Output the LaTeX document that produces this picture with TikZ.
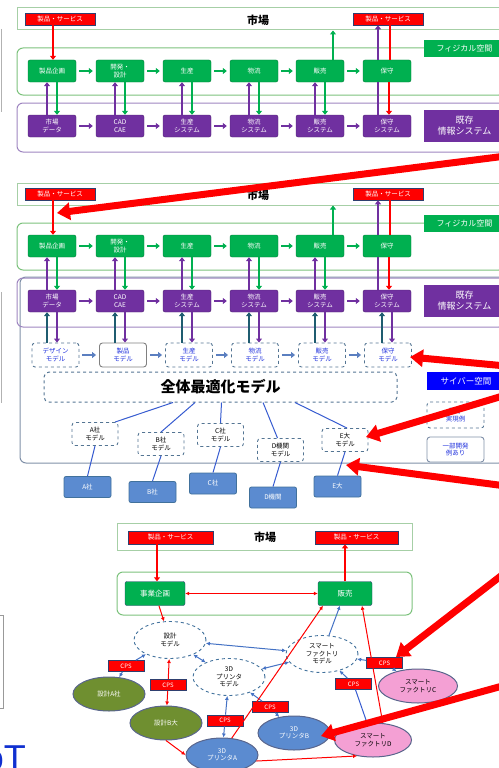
\documentclass[tikz,border=0pt]{standalone}
\usepackage{fontspec}
\setmainfont{Noto Sans CJK JP}
\newfontfamily\lsans{Liberation Sans}
\usetikzlibrary{arrows.meta,calc,shapes.geometric}
\definecolor{cgreen}{HTML}{00B050}
\definecolor{cpurple}{HTML}{7030A0}
\definecolor{cred}{HTML}{FF0000}
\definecolor{cnavy}{HTML}{2F3F6F}
\definecolor{cmk}{HTML}{A6CFA6}
\definecolor{cframeg}{HTML}{7CC27C}
\definecolor{cframep}{HTML}{9E85C0}
\definecolor{cframeb}{HTML}{8090A8}
\definecolor{cblue}{HTML}{5B8BD0}
\definecolor{cblueb}{HTML}{41719C}
\definecolor{colive}{HTML}{6F8F30}
\definecolor{cpink}{HTML}{F4A0D4}
\definecolor{cteal}{HTML}{1F5C70}
\definecolor{clink}{HTML}{4472C4}
\definecolor{ctext}{HTML}{2233DD}
\definecolor{cmodarr}{HTML}{5B7FC0}
\definecolor{ccyber}{HTML}{0000FF}
\definecolor{ciot}{HTML}{1030D0}
\tikzset{
 sm/.style={font=\fontsize{6.5}{7.5}\selectfont},
 redlab/.style={sm, fill=cred, draw=cnavy, line width=0.6pt, text=white, minimum width=70pt, minimum height=12pt, inner sep=0pt},
 cps/.style={redlab, minimum width=36pt, minimum height=11pt, font=\fontsize{6}{6}\selectfont},
 gbox/.style={sm, fill=cgreen, draw=cgreen!70!black, rounded corners=2pt, text=white, minimum width=48pt, minimum height=22pt, inner sep=0pt, align=center},
 pbox/.style={gbox, fill=cpurple, draw=cpurple!70!black},
 mktbox/.style={draw=cmk, line width=1pt, inner sep=0pt},
 gframe/.style={draw=cframeg, line width=1pt, rounded corners=6pt, inner sep=0pt},
 pframe/.style={draw=cframep, line width=1pt, rounded corners=6pt, inner sep=0pt},
 bframe/.style={draw=cframeb, line width=1pt, rounded corners=6pt, inner sep=0pt},
 glab/.style={fill=cgreen, text=white, font=\fontsize{8}{9}\selectfont, minimum width=81pt, minimum height=17pt, inner sep=0pt},
 plab/.style={fill=cpurple, text=white, font=\fontsize{9}{11}\selectfont, minimum width=81pt, minimum height=32pt, inner sep=0pt, align=center},
 clab/.style={fill=ccyber, text=white, font=\fontsize{8.5}{9}\selectfont, minimum width=78pt, minimum height=18pt, inner sep=0pt},
 mbox/.style={sm, dashed, draw=cblueb!70!gray, line width=0.9pt, rounded corners=3pt, minimum width=47pt, minimum height=24pt, text=ctext, align=center, inner sep=0pt},
 cmod/.style={mbox, text=black, minimum width=46pt, minimum height=23pt},
 cbox/.style={sm, fill=cblue, draw=cblueb, line width=0.8pt, rounded corners=2pt, minimum width=47pt, minimum height=21pt, text=white, inner sep=0pt},
 obox/.style={dashed, draw=cblueb!70!gray, line width=1pt, rounded corners=5pt, font=\fontsize{15}{15}\selectfont\bfseries, inner sep=0pt},
 dell/.style={ellipse, sm, draw=cblueb, dashed, line width=0.9pt, fill=white, minimum width=72pt, minimum height=37pt, inner sep=0pt, align=center},
 fell/.style={ellipse, sm, draw=cnavy!80, line width=1pt, minimum width=72pt, minimum height=34pt, inner sep=0pt, align=center, text=white},
 gharr/.style={draw=cgreen, line width=2.2pt, -{Triangle[length=4pt,width=6pt]}, shorten <=3pt, shorten >=3pt},
 pharr/.style={gharr, draw=cpurple},
 mharr/.style={gharr, draw=cmodarr},
 gvarr/.style={draw=cgreen, line width=2.2pt, -{Triangle[length=4pt,width=6pt]}},
 pvarr/.style={gvarr, draw=cpurple},
 pline/.style={draw=cpurple, line width=2.2pt},
 rline/.style={draw=cred, line width=2.2pt},
 tvarr/.style={gvarr, draw=cteal},
 rvarr/.style={gvarr, draw=cred},
 rl/.style={draw=cred, line width=1pt, -{Latex[length=4pt,width=4pt]}},
 rld/.style={draw=cred, line width=1pt, {Latex[length=4pt,width=4pt]}-{Latex[length=4pt,width=4pt]}},
 bl/.style={draw=clink, line width=1pt, -{Latex[length=4pt,width=4pt]}},
 bld/.style={draw=clink, line width=1pt, {Latex[length=4pt,width=4pt]}-{Latex[length=4pt,width=4pt]}},
 cline/.style={draw=clink!80!blue, line width=1pt},
 bigarr/.style={draw=cred, line width=7pt, -{Triangle[length=13pt,width=17pt]}},
}
\newcommand\mypanel[1]{%
 \node[mktbox, minimum width=488pt, minimum height=22pt] (#1mk) at (261,19) {};
 \node[font=\fontsize{11}{11}\selectfont\bfseries] (#1mt) at (258,20) {市場};
 \node[redlab] (#1rl) at (60,19) {製品・サービス};
 \node[redlab] (#1rr) at (388,19) {製品・サービス};
 \node[gframe, minimum width=488pt, minimum height=47pt] (#1gf) at (261,71.5) {};
 \node[glab] (#1gl) at (464.5,48.5) {フィジカル空間};
 \node[pframe, minimum width=488pt, minimum height=49pt] (#1pf) at (261,127.5) {};
 \node[plab] (#1pl) at (464.5,126) {既存\\情報システム};
 \node[gbox] (#1g1) at (52,71) {製品企画};
 \node[gbox] (#1g2) at (120,71) {開発・\\設計};
 \node[gbox] (#1g3) at (187,71) {生産};
 \node[gbox] (#1g4) at (254,71) {物流};
 \node[gbox] (#1g5) at (320,71) {販売};
 \node[gbox] (#1g6) at (387,71) {保守};
 \node[pbox] (#1p1) at (52,126) {市場\\データ};
 \node[pbox] (#1p2) at (120,126) {CAD\\CAE};
 \node[pbox] (#1p3) at (187,126) {生産\\システム};
 \node[pbox] (#1p4) at (254,126) {物流\\システム};
 \node[pbox] (#1p5) at (320,126) {販売\\システム};
 \node[pbox] (#1p6) at (387,126) {保守\\システム};
 \foreach \i/\j in {1/2,2/3,3/4,4/5,5/6} {
  \draw[gharr] (#1g\i) -- (#1g\j);
  \draw[pharr] (#1p\i) -- (#1p\j);
 }
 \foreach \i in {1,...,5} {
  \draw[pvarr] ([xshift=-5pt]#1p\i.north) -- ([xshift=-5pt]#1g\i.south);
  \draw[gvarr] ([xshift=5pt]#1g\i.south) -- ([xshift=5pt]#1p\i.north);
 }
 \draw[pline] ([xshift=-9pt]#1p6.north) -- ([xshift=-9pt]#1g6.south);
 \draw[pvarr] ([xshift=-9pt]#1g6.north) -- ([xshift=-9pt]#1g6.north |- #1rr.south);
 \draw[rline] ([xshift=2pt]#1rr.south) -- ([xshift=2pt]#1rr.south |- #1g6.north);
 \draw[rvarr] ([xshift=2pt]#1g6.south) -- ([xshift=2pt]#1p6.north);
 \draw[gvarr] ([xshift=13pt]#1g5.north) -- ([xshift=13pt]#1g5.north |- #1mk.south);
 \draw[rvarr] ([xshift=1pt]#1g1.north |- #1rl.south) -- ([xshift=1pt]#1g1.north);
}
\begin{document}
\begin{tikzpicture}[x=1pt,y=-1pt]
\useasboundingbox (0,0) rectangle (498,768);
% left-edge fragments
\draw[gray!60, line width=1pt] (1,29) -- (1,112);
\draw[gray!60, line width=1pt] (1,292) -- (1,403);
\draw[gray!80, line width=1pt] (-6,615) rectangle (3,708);
\node[anchor=base east, text=ciot, font=\lsans\fontsize{36}{36}\selectfont, inner sep=0pt] (iot) at (26,770) {IoT};
% ---------- panel 1 ----------
\mypanel{a}
% ---------- panel 2 ----------
\begin{scope}[shift={(0,175)}]
 \node[bframe, minimum width=485pt, minimum height=186pt] (bf) at (262.5,195) {};
 \mypanel{b}
 \node[mbox] (bm1) at (55.5,180) {デザイン\\モデル};
 \node[mbox, solid, draw=gray] (bm2) at (123,180) {製品\\モデル};
 \node[mbox] (bm3) at (189,180) {生産\\モデル};
 \node[mbox] (bm4) at (255,180) {物流\\モデル};
 \node[mbox] (bm5) at (322,180) {販売\\モデル};
 \node[mbox] (bm6) at (388,180) {保守\\モデル};
 \foreach \i/\j in {1/2,2/3,3/4,4/5,5/6} {\draw[mharr] (bm\i) -- (bm\j);}
 \foreach \i in {1,...,6} {
  \draw[tvarr] ([xshift=-5pt]bp\i.south |- bm\i.north) -- ([xshift=-5pt]bp\i.south);
  \draw[pvarr] ([xshift=5pt]bp\i.south) -- ([xshift=5pt]bp\i.south |- bm\i.north);
 }
 \node[obox, minimum width=353pt, minimum height=30pt] (opt) at (220.5,212) {全体最適化モデル};
 \node[clab] (cyl) at (466,206) {サイバー空間};
 \node[mbox, minimum width=57pt, minimum height=26pt] (ex) at (455.5,240) {既存\\実現例};
 \node[mbox, solid, draw=cframeb, minimum width=57pt, minimum height=25pt] (ip) at (455.5,274.5) {一部開発\\例あり};
 \node[cmod] (ma) at (95,259) {A社\\モデル};
 \node[cmod] (mb) at (161,269) {B社\\モデル};
 \node[cmod] (mc) at (220.5,260) {C社\\モデル};
 \node[cmod] (md) at (280.5,275) {D機関\\モデル};
 \node[cmod] (me) at (345,265) {E大\\モデル};
 \node[cbox] (ca) at (87.5,312) {A社};
 \node[cbox] (cb) at (152.5,317) {B社};
 \node[cbox] (cc) at (213,308.5) {C社};
 \node[cbox] (cd) at (273,322.5) {D機関};
 \node[cbox] (ce) at (337.5,311.5) {E大};
 \draw[cline] ([xshift=-47.5pt]opt.south) -- ([xshift=20pt]ma.north);
 \draw[cline] ([xshift=-25.5pt]opt.south) -- (mb.north);
 \draw[cline] ([xshift=1pt]opt.south) -- (mc.north);
 \draw[cline] ([xshift=42.5pt]opt.south) -- ([xshift=-3pt]md.north);
 \draw[cline] ([xshift=74.5pt]opt.south) -- ([xshift=2pt]me.north);
 \draw[cline] (ma.south) -- (ca.north);
 \draw[cline] (mb.south) -- (cb.north);
 \draw[cline] (mc.south) -- (cc.north);
 \draw[cline] (md.south) -- (cd.north);
 \draw[cline] (me.south) -- (ce.north);
\end{scope}
% ---------- panel 3 ----------
\node[mktbox, minimum width=295pt, minimum height=27pt] (mk3) at (264.5,536.5) {};
\node[font=\fontsize{11}{11}\selectfont\bfseries] (mt3) at (265,537) {市場};
\node[redlab, minimum width=85pt, minimum height=13pt] (rl3) at (170.5,537.5) {製品・サービス};
\node[redlab, minimum width=83pt, minimum height=13pt] (rr3) at (356.5,537.5) {製品・サービス};
\node[gframe, minimum width=295pt, minimum height=43pt] (gf3) at (264.5,593.5) {};
\node[gbox, draw=cnavy, minimum width=60pt, minimum height=24pt, font=\fontsize{7.5}{8}\selectfont] (jk) at (155,593.5) {事業企画};
\node[gbox, draw=cnavy, minimum width=54pt, minimum height=24pt, font=\fontsize{7.5}{8}\selectfont] (hb) at (345,593.5) {販売};
\node[dell] (dm) at (170,640) {設計\\モデル};
\node[dell] (pm) at (229,677) {3D\\プリンタ\\モデル};
\node[dell] (sfm) at (322,654) {スマート\\ファクトリ\\モデル};
\node[fell, fill=colive] (da) at (109,694) {設計A社};
\node[fell, fill=colive] (db) at (166,723) {設計B大};
\node[fell, fill=cblue] (pa) at (222,755) {3D\\プリンタA};
\node[fell, fill=cblue] (pb) at (294,733) {3D\\プリンタB};
\node[fell, fill=cpink, text=black, minimum width=79pt] (sc) at (418,686) {スマート\\ファクトリC};
\node[fell, fill=cpink, text=black, minimum width=77pt] (sd) at (373,740) {スマート\\ファクトリD};
\node[cps] (c1) at (126,666) {CPS};
\node[cps] (c2) at (168,685) {CPS};
\node[cps] (c3) at (225,720.5) {CPS};
\node[cps] (c4) at (270,707) {CPS};
\node[cps] (c5) at (353.5,684) {CPS};
\node[cps] (c6) at (384.5,663) {CPS};
\draw[rvarr, line width=2pt] ([xshift=2pt]jk.north |- rl3.south) -- ([xshift=2pt]jk.north);
\draw[rvarr, line width=2pt] (hb.north) -- (hb.north |- rr3.south);
\draw[rld] (jk) -- (hb);
\draw[rl] (jk) -- (dm);
\draw[bld] (dm) -- (sfm);
\draw[bld] (dm) -- (pm);
\draw[bld] (pm) -- (sfm);
\draw[bl] (sfm) -- ([xshift=-5pt]hb.south);
\draw[bl] (c1) -- (dm);
\draw[bl] (c1) -- (da);
\draw[rl] (c2) -- (dm);
\draw[rl] (c2) -- (db);
\draw[bl] (c3) -- (pm);
\draw[bl] (c3) -- (pa);
\draw[bl] (c4) -- (pm);
\draw[bl] (c4) -- (pb);
\draw[bl] (c5) -- (sfm);
\draw[cline] (c5) -- (sd);
\draw[bl] (c6) -- (sfm);
\draw[bl] (c6) -- (sc);
\draw[rl] (pa.60) -- ([xshift=-22pt]hb.south);
\draw[rl] (db.south) -- (pa.west);
\draw[rl] (pa.-10) -- (sd.225);
\draw[rl] (sd.60) -- ([xshift=17pt]hb.south);
% ---------- big red arrows ----------
\coordinate (a1s) at (506,156); \coordinate (a1t) at (57,213);
\coordinate (a2s) at (506,366); \coordinate (a2t) at (410,357);
\coordinate (a3s) at (506,395); \coordinate (a3t) at (366,437);
\coordinate (a4s) at (506,486); \coordinate (a4t) at (346,465);
\coordinate (a5s) at (506,572); \coordinate (a5t) at (396,657);
\coordinate (a6s) at (506,685); \coordinate (a6t) at (321,736);
\foreach \k in {1,...,6} {\draw[bigarr] (a\k s) -- (a\k t);}
\end{tikzpicture}
\end{document}
